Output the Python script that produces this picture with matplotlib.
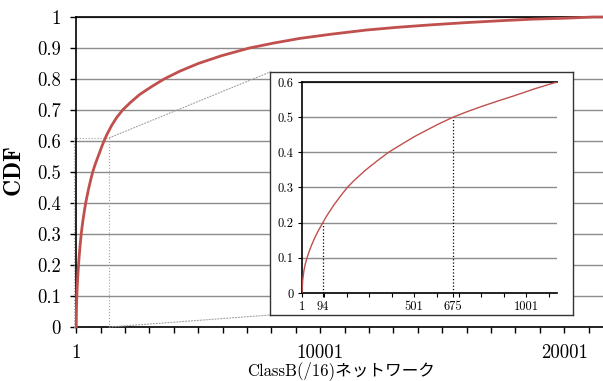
import matplotlib
matplotlib.use("Agg")
import matplotlib.pyplot as plt
from matplotlib.patches import ConnectionPatch
from matplotlib.ticker import FixedLocator, FixedFormatter

# ── Data ───────────────────────────────────────────────────────────────────────

rank = [1, 4, 10, 16, 25, 33, 43, 58, 72, 94, 112, 145, 172, 203, 232, 280,
        305, 345, 387, 430, 503, 545, 605, 675, 735, 800, 870, 948, 1040,
        1138, 1250, 1450, 1650, 1900, 2230, 2600, 3080, 3600, 4240, 5000,
        5950, 7100, 8100, 9168, 10500, 11900, 13200, 14600, 16000, 17400,
        18700, 20000, 21200, 21587]
cdf  = [0, 0.035, 0.065, 0.083, 0.103, 0.118, 0.135, 0.157, 0.175, 0.2, 0.22,
        0.252, 0.275, 0.3, 0.319, 0.347, 0.36, 0.38, 0.4, 0.417, 0.445,
        0.459, 0.479, 0.5, 0.515, 0.53, 0.545, 0.561, 0.581, 0.6, 0.62,
        0.65, 0.675, 0.7, 0.725, 0.75, 0.775, 0.8, 0.825, 0.85, 0.875, 0.9,
        0.916, 0.931, 0.945, 0.958, 0.967, 0.975, 0.982, 0.988, 0.993,
        0.996, 1.0, 1.0]

main_xticks  = [1, 10001, 20001]
main_yticks  = [0, 0.1, 0.2, 0.3, 0.4, 0.5, 0.6, 0.7, 0.8, 0.9, 1]
main_ylabels = ["0", "0.1", "0.2", "0.3", "0.4", "0.5", "0.6", "0.7", "0.8", "0.9", "1"]

inset_xticks  = [1, 94, 501, 675, 1001]
inset_yticks  = [0, 0.1, 0.2, 0.3, 0.4, 0.5, 0.6]
inset_ylabels = ["0", "0.1", "0.2", "0.3", "0.4", "0.5", "0.6"]
marks_x = [94, 675]      # dotted guides in the inset
marks_y = [0.2, 0.5]

zoom_x, zoom_y = 1350, 0.61   # zoom box in the main chart

# ── Style ──────────────────────────────────────────────────────────────────────

RED  = "#c0504d"
GRID = "#8c8c8c"
FONT = ["cmr10", "Noto Sans CJK JP"]

plt.rcParams["font.family"] = FONT
plt.rcParams["mathtext.fontset"] = "cm"
plt.rcParams["axes.formatter.use_mathtext"] = True

fig = plt.figure(figsize=(6.03, 3.81), dpi=100)

# ── Main chart ─────────────────────────────────────────────────────────────────

ax = fig.add_axes([0.1265, 0.1417, 0.8735, 0.8137])
ax.plot(rank, cdf, color=RED, lw=2.0, zorder=3, clip_on=False)
ax.set_xlim(1, 21587)
ax.set_ylim(0, 1)

ax.xaxis.set_major_locator(FixedLocator(main_xticks))
ax.xaxis.set_major_formatter(FixedFormatter([str(t) for t in main_xticks]))
ax.xaxis.set_minor_locator(FixedLocator(list(range(1, 21587, 1000))))
ax.yaxis.set_major_locator(FixedLocator(main_yticks))
ax.yaxis.set_major_formatter(FixedFormatter(main_ylabels))

ax.tick_params(axis="both", which="both", direction="out", length=4, width=1,
               color="black", labelsize=13.5)
ax.tick_params(axis="x", which="minor", length=4)
ax.tick_params(axis="x", pad=8)
ax.tick_params(axis="y", pad=7)

ax.yaxis.grid(True, color=GRID, lw=1.0, zorder=0)
ax.spines["right"].set_visible(False)
for s in ("left", "bottom", "top"):
    ax.spines[s].set_color("black")
    ax.spines[s].set_linewidth(1.2)

ax.set_ylabel(r"$\mathbf{CDF}$", fontsize=17, labelpad=8)
ax.set_xlabel("ClassB(/16)ネットワーク", fontsize=12, va="center")
ax.xaxis.set_label_coords(0.5026, -0.142)

# zoom box
box_kw = dict(color="#a0a0a0", lw=0.8, ls=":", clip_on=False, zorder=2)
ax.plot([-80, -80, zoom_x, zoom_x, -80], [0, zoom_y, zoom_y, 0, 0], **box_kw)

# ── Inset ──────────────────────────────────────────────────────────────────────

frame = fig.add_axes([0.4478, 0.1732, 0.5025, 0.6378])
frame.set_xticks([])
frame.set_yticks([])
frame.set_facecolor("white")
for s in frame.spines.values():
    s.set_color("#333333")
    s.set_linewidth(1.0)
frame.set_zorder(5)

for xy_frame, xy_main in [((0, 1), (zoom_x, zoom_y)), ((0, 0), (zoom_x, 0))]:
    con = ConnectionPatch(xyA=xy_main, coordsA=ax.transData,
                          xyB=xy_frame, coordsB=frame.transAxes,
                          color="#a0a0a0", lw=0.8, ls=":")
    fig.add_artist(con)

ins = fig.add_axes([0.5008, 0.231, 0.4229, 0.5538])
ins.set_zorder(6)
ins.plot(rank, cdf, color=RED, lw=1.0, zorder=3)
for mx, my in zip(marks_x, marks_y):
    ins.plot([mx, mx], [0, my], color="black", lw=0.9, ls=":", zorder=2)
ins.set_xlim(1, 1138)
ins.set_ylim(0, 0.6)

ins.xaxis.set_major_locator(FixedLocator(inset_xticks))
ins.xaxis.set_major_formatter(FixedFormatter([str(t) for t in inset_xticks]))
ins.xaxis.set_minor_locator(FixedLocator(list(range(101, 1138, 100))))
ins.yaxis.set_major_locator(FixedLocator(inset_yticks))
ins.yaxis.set_major_formatter(FixedFormatter(inset_ylabels))
ins.tick_params(axis="both", which="both", direction="out", length=3, width=0.8,
                labelsize=9, pad=3)

ins.yaxis.grid(True, color=GRID, lw=1.0, zorder=0)
ins.spines["right"].set_visible(False)
for s in ("left", "bottom", "top"):
    ins.spines[s].set_color("black")
    ins.spines[s].set_linewidth(1.2)

fig.savefig("out.png", dpi=100)
